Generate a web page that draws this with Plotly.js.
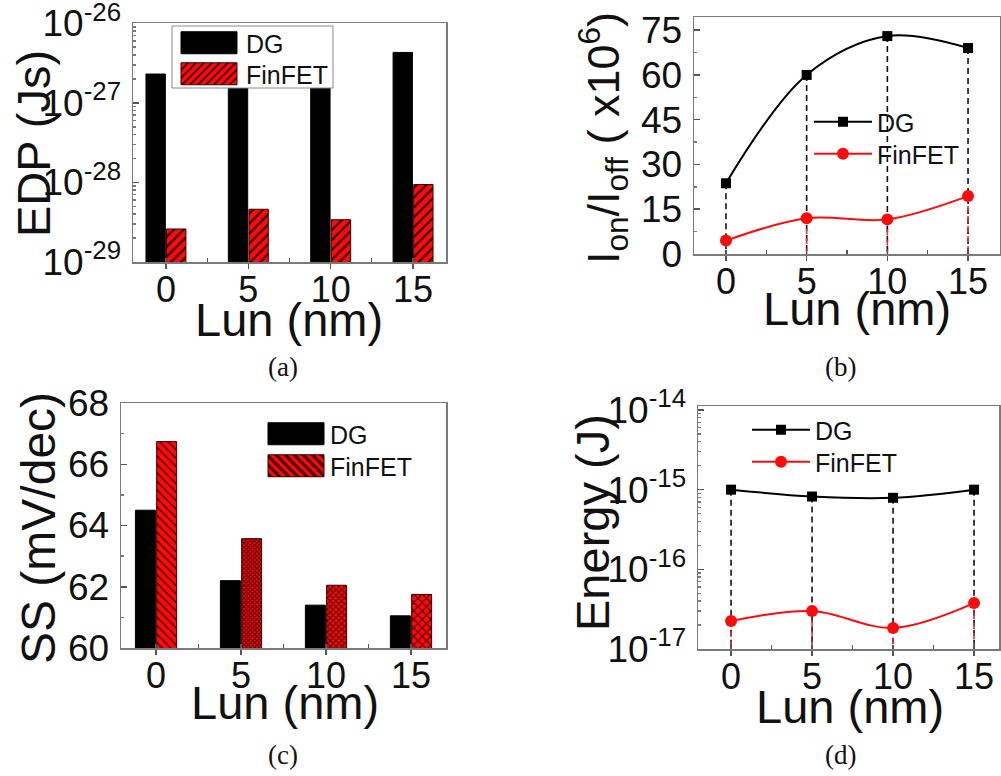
<!DOCTYPE html>
<html><head><meta charset="utf-8">
<script src="https://cdn.plot.ly/plotly-3.0.1.min.js"></script>
<style>
html,body{margin:0;padding:0;background:#fff;overflow:hidden}
.legend path.legendbar{d:path('M28,11H-28V-11H28Z');}
</style>
</head><body><div id="chart" style="width:1001px;height:776px"></div>
<script>
// ---------- data ----------
const lun = [0, 5, 10, 15];
const lunLabels = ['0', '5', '10', '15'];
const edpDG = [2.3e-27, 2.0e-27, 1.9e-27, 4.3e-27];
const edpFin = [2.6e-29, 4.6e-29, 3.4e-29, 9.4e-29];
const ratioDG = [23.7, 60.0, 73.0, 69.0];
const ratioFin = [4.5, 12.0, 11.6, 19.4];
const ssDG = [64.5, 62.2, 61.4, 61.05];
const ssFin = [66.74, 63.57, 62.05, 61.75];
const energyDG = [1.0e-15, 8.2e-16, 7.9e-16, 1.0e-15];
const energyFin = [2.24e-17, 3.0e-17, 1.84e-17, 3.77e-17];
const edpTickVals = [1e-29, 1e-28, 1e-27, 1e-26];
const edpTickText = ['10<sup>-29</sup>', '10<sup>-28</sup>', '10<sup>-27</sup>', '10<sup>-26</sup>'];
const energyTickVals = [1e-17, 1e-16, 1e-15, 1e-14];
const energyTickText = ['10<sup>-17</sup>', '10<sup>-16</sup>', '10<sup>-15</sup>', '10<sup>-14</sup>'];
const ssTickVals = [60, 62, 64, 66, 68];
const ratioTickVals = [0, 15, 30, 45, 60, 75];
const seriesNames = ['DG', 'FinFET'];
const xTitle = 'Lun (nm)';
const yTitles = ['EDP (Js)', 'I<sub>on</sub>/I<sub>off</sub> ( x10<sup>6</sup>)', 'SS (mV/dec)', 'Energy (J)'];
const captions = ['(a)', '(b)', '(c)', '(d)'];

// ---------- style ----------
const FONT = 'Liberation Sans, Arial, sans-serif';
const RED = '#ff0a0a';
const AXC = '#7a7a7a';
const W = 1001, H = 776;
const px = v => v / W, py = v => 1 - v / H;

function drops(xs, tops, base) {
  const x = [], y = [];
  xs.forEach((v, i) => { x.push(v, v, null); y.push(tops[i], base, null); });
  return {x, y};
}
const dropB1 = drops(lun, ratioDG, 0);
const dropB2 = drops(lun, ratioFin, 0);
const dropD1 = drops(lun, energyDG, energyTickVals[0]);
const dropD2 = drops(lun, energyFin, energyTickVals[0]);

const traces = [
  // (a)
  {type:'bar', x:lun, y:edpDG, name:seriesNames[0], xaxis:'x', yaxis:'y', legend:'legend',
   marker:{color:'#000', line:{color:'#000', width:1}}},
  {type:'bar', x:lun, y:edpFin, name:seriesNames[1], xaxis:'x', yaxis:'y', legend:'legend2',
   marker:{color:RED, line:{color:'#3a0000', width:1},
     pattern:{shape:'/', fgcolor:'#2a0000', bgcolor:RED, size:7, solidity:0.3}}},
  // (b)
  {type:'scatter', mode:'lines', x:dropB1.x, y:dropB1.y, xaxis:'x2', yaxis:'y2', showlegend:false,
   line:{color:'#111', width:1.6, dash:'6px,4px'}, hoverinfo:'skip'},
  {type:'scatter', mode:'lines', x:dropB2.x, y:dropB2.y, xaxis:'x2', yaxis:'y2', showlegend:false,
   line:{color:'#e0303a', width:1.6, dash:'6px,4px'}, hoverinfo:'skip'},
  {type:'scatter', mode:'lines+markers', x:lun, y:ratioDG, name:seriesNames[0], xaxis:'x2', yaxis:'y2', legend:'legend3',
   line:{color:'#000', width:2, shape:'spline'}, marker:{symbol:'square', size:10, color:'#000'}},
  {type:'scatter', mode:'lines+markers', x:lun, y:ratioFin, name:seriesNames[1], xaxis:'x2', yaxis:'y2', legend:'legend4',
   line:{color:RED, width:2, shape:'spline'}, marker:{symbol:'circle', size:12, color:RED}},
  // (c)
  {type:'bar', x:lun, y:ssDG, name:seriesNames[0], xaxis:'x3', yaxis:'y3', legend:'legend5',
   marker:{color:'#000', line:{color:'#000', width:1}}},
  {type:'bar', x:lun, y:ssFin, name:seriesNames[1], xaxis:'x3', yaxis:'y3', legend:'legend6',
   marker:{color:RED, line:{color:'#3a0000', width:1},
     pattern:{shape:['\\', 'x', 'x', 'x'], fgcolor:'#4a0000', bgcolor:RED, size:[6, 3, 4, 6], solidity:[0.25, 0.55, 0.45, 0.35]}}},
  // (d)
  {type:'scatter', mode:'lines', x:dropD1.x, y:dropD1.y, xaxis:'x4', yaxis:'y4', showlegend:false,
   line:{color:'#111', width:1.6, dash:'6px,4px'}, hoverinfo:'skip'},
  {type:'scatter', mode:'lines', x:dropD2.x, y:dropD2.y, xaxis:'x4', yaxis:'y4', showlegend:false,
   line:{color:'#e0303a', width:1.6, dash:'6px,4px'}, hoverinfo:'skip'},
  {type:'scatter', mode:'lines+markers', x:lun, y:energyDG, name:seriesNames[0], xaxis:'x4', yaxis:'y4', legend:'legend7',
   line:{color:'#000', width:2, shape:'spline'}, marker:{symbol:'square', size:10, color:'#000'}},
  {type:'scatter', mode:'lines+markers', x:lun, y:energyFin, name:seriesNames[1], xaxis:'x4', yaxis:'y4', legend:'legend8',
   line:{color:RED, width:2, shape:'spline'}, marker:{symbol:'circle', size:12, color:RED}}
];

function xAxis(domain, range, anchor) {
  return {
    domain, range, anchor, type:'linear',
    tickmode:'array', tickvals:lun, ticktext:lunLabels,
    ticks:'outside', ticklen:5, tickwidth:1.5, tickcolor:'#555',
    ticklabelstandoff:-10, ticklabeloverflow:'allow',
    minor:{dtick:2.5, tick0:0, ticks:'inside', ticklen:4, tickwidth:1.2, tickcolor:'#555'},
    showline:true, mirror:true, linecolor:AXC, linewidth:1.5,
    showgrid:false, zeroline:false,
    tickfont:{family:FONT, size:36, color:'#111'}
  };
}
function yBase(domain, anchor) {
  return {
    domain, anchor, showline:true, mirror:true, linecolor:AXC, linewidth:1.5,
    showgrid:false, zeroline:false, ticks:'inside', ticklen:6, tickwidth:1.5, tickcolor:'#555',
    ticklabelstandoff:3, ticklabeloverflow:'allow',
    tickfont:{family:FONT, size:37, color:'#111'}
  };
}

const ya = Object.assign(yBase([py(262), py(23)], 'x'), {
  type:'log', range:[-29, -25.997], tickmode:'array', tickvals:edpTickVals, ticktext:edpTickText,
  minor:{dtick:'D1', ticks:'inside', ticklen:3, tickcolor:'#777'}});
const yb = Object.assign(yBase([py(254), py(17)], 'x2'), {
  type:'linear', range:[0, 79.4], tickmode:'array', tickvals:ratioTickVals,
  minor:{dtick:7.5, tick0:0, ticks:'inside', ticklen:3, tickcolor:'#777'}});
const yc = Object.assign(yBase([py(648), py(403)], 'x3'), {
  type:'linear', range:[60, 68], tickmode:'array', tickvals:ssTickVals,
  minor:{dtick:1, tick0:60, ticks:'inside', ticklen:3, tickcolor:'#777'}});
const yd = Object.assign(yBase([py(649), py(406)], 'x4'), {
  type:'log', range:[-17, -13.95], tickmode:'array', tickvals:energyTickVals, ticktext:energyTickText,
  minor:{dtick:'D1', ticks:'inside', ticklen:3, tickcolor:'#777'}});

function legendCfg(xp, yp, w) {
  return {x:px(xp), y:py(yp), xref:'paper', yref:'paper', xanchor:'left', yanchor:'middle',
    bgcolor:'rgba(0,0,0,0)', borderwidth:0,
    font:{family:FONT, size:25, color:'#111'}, itemwidth:w};
}

const capFont = {family:'Liberation Serif, serif', size:27, color:'#111'};
const capPos = [[283, 367], [840, 367], [283, 755], [840, 755]];
const annotations = captions.map((t, i) => ({
  text:t, xref:'paper', yref:'paper', x:px(capPos[i][0]), y:py(capPos[i][1]),
  xanchor:'center', yanchor:'middle', showarrow:false, font:capFont}));

// axis titles
const xTitlePos = [[289, 319], [857, 309], [285, 702], [850, 706]];
xTitlePos.forEach(p => annotations.push({text:xTitle, xref:'paper', yref:'paper', x:px(p[0]), y:py(p[1]),
  xanchor:'center', yanchor:'middle', showarrow:false, font:{family:FONT, size:47, color:'#111'}}));
const yTitlePos = [[33, 144, 47], [603, 138, 45], [38, 528, 48], [592, 523, 47]];
yTitlePos.forEach((p, i) => annotations.push({text:yTitles[i], xref:'paper', yref:'paper', x:px(p[0]), y:py(p[1]),
  xanchor:'center', yanchor:'middle', textangle:-90, showarrow:false, font:{family:FONT, size:p[2], color:'#111'}}));

const layout = {
  width:W, height:H, margin:{l:0, r:0, t:0, b:0},
  paper_bgcolor:'#fff', plot_bgcolor:'#fff', showlegend:true,
  font:{family:FONT, color:'#111'},
  barmode:'group', bargap:0.5, bargroupgap:0.06,
  xaxis: xAxis([px(133), px(446)], [-2.0, 17.0], 'y'),
  yaxis: ya,
  xaxis2: xAxis([px(694), px(1000)], [-1.98, 16.98], 'y2'),
  yaxis2: yb,
  xaxis3: xAxis([px(121), px(446)], [-2.06, 17.06], 'y3'),
  yaxis3: yc,
  xaxis4: xAxis([px(698), px(999)], [-2.04, 16.54], 'y4'),
  yaxis4: yd,
  legend: legendCfg(172, 43, 64),
  legend2: legendCfg(172, 74, 64),
  legend3: legendCfg(809, 122, 58),
  legend4: legendCfg(809, 154, 58),
  legend5: legendCfg(262, 434, 58),
  legend6: legendCfg(262, 466, 58),
  legend7: legendCfg(747, 430, 58),
  legend8: legendCfg(747, 462, 58),
  shapes: [{type:'rect', xref:'paper', yref:'paper', x0:px(172), x1:px(333), y0:py(88), y1:py(26),
    line:{color:'#8a8a8a', width:1}, fillcolor:'#fff', layer:'above'}],
  annotations
};

function fixSwatches() {
  document.querySelectorAll('.legendpoints path').forEach(p => {
    const d = p.getAttribute('d') || '';
    if (p.classList.contains('legendbar') || d.indexOf('M6,6H-6V-6H6Z') === 0) {
      p.setAttribute('d', 'M28,11H-28V-11H28Z');
    }
  });
}
Plotly.newPlot('chart', traces, layout, {displayModeBar:false, staticPlot:true}).then(() => {
  fixSwatches();
  setTimeout(fixSwatches, 50);
});
</script></body></html>
